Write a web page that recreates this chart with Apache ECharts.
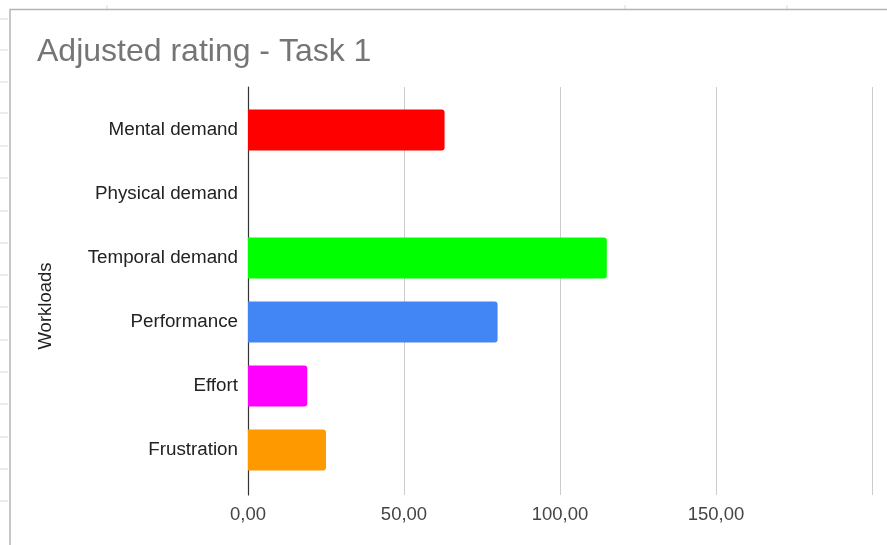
<!DOCTYPE html>
<html>
<head>
<meta charset="utf-8">
<title>Adjusted rating - Task 1</title>
<script src="https://cdn.jsdelivr.net/npm/echarts@6/dist/echarts.min.js"></script>
<style>
  html, body { margin: 0; padding: 0; background: #ffffff; }
  #chart { width: 887px; height: 545px; }
</style>
</head>
<body>
<div id="chart"></div>
<script>
// Workload categories (top to bottom)
const categories = ['Mental demand', 'Physical demand', 'Temporal demand', 'Performance', 'Effort', 'Frustration'];
// Adjusted rating for each workload
const ratings = [63, 0, 115, 80, 19, 25];
// Bar colour for each workload
const barColors = ['#ff0000', '#ffff00', '#00ff00', '#4285f4', '#ff00ff', '#ff9900'];
// Value axis range and step
const axisMin = 0;
const axisMax = 200;
const axisStep = 50;

const FONT = '"Liberation Sans", Arial, sans-serif';

const chart = echarts.init(document.getElementById('chart'), null, { renderer: 'canvas' });

// Sheet cell borders around the chart frame
const rowMarks = [19, 50, 82, 113, 146, 178, 211, 243, 275, 307, 340, 372, 404, 437, 469, 501];
const colMarks = [107, 625, 787];
const decor = [];
rowMarks.forEach(y => decor.push({
  type: 'line', silent: true,
  shape: { x1: 0, y1: y, x2: 8, y2: y },
  style: { stroke: '#d9d9d9', lineWidth: 1 }
}));
colMarks.forEach(x => decor.push({
  type: 'line', silent: true,
  shape: { x1: x, y1: 5, x2: x, y2: 9 },
  style: { stroke: '#d9d9d9', lineWidth: 1 }
}));
decor.push({
  type: 'polyline', silent: true,
  shape: { points: [[10, 545], [10, 9.5], [887, 9.5]] },
  style: { stroke: '#b4b4b4', lineWidth: 1.5, fill: null }
});
decor.push({
  type: 'text', silent: true,
  x: 46, y: 306, rotation: Math.PI / 2,
  style: {
    text: 'Workloads', font: '18.5px ' + FONT, fill: '#222222',
    align: 'center', verticalAlign: 'middle'
  }
});

const fmt = v => v.toFixed(2).replace('.', ',');

chart.setOption({
  backgroundColor: '#ffffff',
  animation: false,
  title: {
    text: 'Adjusted rating - Task 1',
    left: 37, top: 36, padding: 0,
    textStyle: { fontFamily: FONT, fontSize: 32, fontWeight: 'normal', color: '#757575' }
  },
  graphic: decor,
  grid: [
    { left: 248, right: 15, top: 87, bottom: 50, containLabel: false },
    { left: 248, right: 15, top: 98, bottom: 63, containLabel: false }
  ],
  xAxis: [
    {
      type: 'value', gridIndex: 0, min: axisMin, max: axisMax, interval: axisStep,
      axisLine: { show: false }, axisTick: { show: false },
      splitLine: { show: true, lineStyle: { color: '#cccccc', width: 1 } },
      axisLabel: {
        show: true, showMaxLabel: false, margin: 10,
        formatter: fmt, fontFamily: FONT, fontSize: 18.5, color: '#444444'
      }
    },
    {
      type: 'value', gridIndex: 1, min: axisMin, max: axisMax, interval: axisStep,
      show: false
    }
  ],
  yAxis: [
    {
      type: 'value', gridIndex: 0, min: 0, max: 1,
      axisLine: { show: true, onZero: false, lineStyle: { color: '#333333', width: 1.2 } },
      axisTick: { show: false }, axisLabel: { show: false }, splitLine: { show: false }
    },
    {
      type: 'category', gridIndex: 1, data: categories, inverse: true,
      axisLine: { show: false }, axisTick: { show: false }, splitLine: { show: false },
      axisLabel: { margin: 10, fontFamily: FONT, fontSize: 18.8, color: '#222222', padding: [4, 0, 0, 0] }
    }
  ],
  series: [
    {
      type: 'bar', xAxisIndex: 1, yAxisIndex: 1,
      barWidth: 41,
      data: ratings.map((v, i) => ({ value: v, itemStyle: { color: barColors[i] } })),
      itemStyle: { borderRadius: [0, 3, 3, 0] },
      z: 3
    }
  ]
});
</script>
</body>
</html>
